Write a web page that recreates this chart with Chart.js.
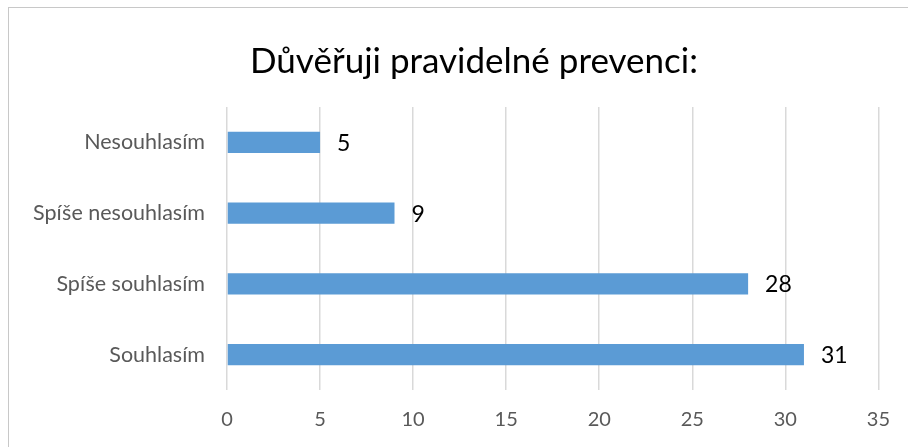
<!DOCTYPE html>
<html>
<head>
<meta charset="utf-8">
<script src="https://cdn.jsdelivr.net/npm/chart.js@4.4.1/dist/chart.umd.min.js"></script>
<style>
  html, body { margin: 0; padding: 0; background: #fff; }
  #wrap { width: 908px; height: 447px; }
</style>
</head>
<body>
<div id="wrap"><canvas id="myChart" width="908" height="447"></canvas></div>
<script>
const chart_title = 'Důvěřuji pravidelné prevenci:';
const chart_labels = ['Nesouhlasím', 'Spíše nesouhlasím', 'Spíše souhlasím', 'Souhlasím'];
const chart_data = [5, 9, 28, 31];
const x_ticks = [0, 5, 10, 15, 20, 25, 30, 35];

const fontFamily = "Lato, 'Open Sans', sans-serif";

// frame around the chart (only left and top edges are visible in the picture)
// and the title, which is centred on the whole (cut off) chart object
const framePlugin = {
    id: 'frame',
    beforeDraw(chart) {
        const ctx = chart.ctx;
        ctx.save();
        ctx.strokeStyle = '#c8c8c8';
        ctx.lineWidth = 1;
        ctx.strokeRect(8.5, 7.5, 1200, 1200);
        ctx.fillStyle = '#000';
        ctx.font = '35px ' + fontFamily;
        ctx.textAlign = 'center';
        ctx.textBaseline = 'middle';
        ctx.fillText(chart_title, 474, 62);
        ctx.restore();
    }
};

// value labels to the right of the bars
const valueLabels = {
    id: 'valueLabels',
    afterDatasetsDraw(chart) {
        const ctx = chart.ctx;
        const meta = chart.getDatasetMeta(0);
        ctx.save();
        ctx.fillStyle = '#000';
        ctx.font = '23px ' + fontFamily;
        ctx.textAlign = 'left';
        ctx.textBaseline = 'middle';
        meta.data.forEach(function (bar, i) {
            ctx.fillText(String(chart_data[i]), bar.x + 17, bar.y + 1);
        });
        ctx.restore();
    }
};

const ctx = document.getElementById('myChart').getContext('2d');

const myChart = new Chart(ctx, {
    type: 'bar',
    data: {
        labels: chart_labels,
        datasets: [
            {
                data: chart_data,
                backgroundColor: '#5B9BD5',
                borderWidth: 0,
                barPercentage: 0.6,
                categoryPercentage: 0.5
            }
        ]
    },
    options: {
        indexAxis: 'y',
        responsive: false,
        animation: false,
        devicePixelRatio: 1,
        layout: {
            padding: { top: 107, right: 29, bottom: 0, left: 0 }
        },
        plugins: {
            legend: { display: false },
            tooltip: { enabled: false },
            title: { display: false }
        },
        scales: {
            x: {
                min: 0,
                max: 35,
                afterBuildTicks: function (axis) {
                    axis.ticks = x_ticks.map(v => ({ value: v }));
                },
                afterFit: function (axis) { axis.height = 57; },
                grid: {
                    color: '#d9d9d9',
                    lineWidth: 1.5,
                    drawTicks: false
                },
                border: { display: false },
                ticks: {
                    color: '#595959',
                    padding: 18,
                    font: { family: fontFamily, size: 20 }
                }
            },
            y: {
                afterFit: function (axis) { axis.width = 227; },
                grid: { display: false, drawTicks: false },
                border: { display: false },
                ticks: {
                    color: '#595959',
                    padding: 22,
                    font: { family: fontFamily, size: 21.5 }
                }
            }
        }
    },
    plugins: [framePlugin, valueLabels]
});
</script>
</body>
</html>
